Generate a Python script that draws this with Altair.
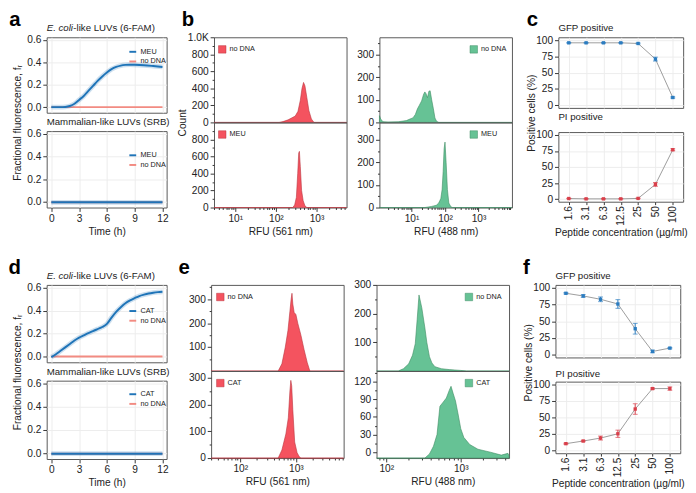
import altair as alt
import pandas as pd

FONT = "Liberation Sans"
BLUE = "#1f74b8"
SALMON = "#f28b82"
RED = "#f4535f"
RED_EDGE = "#b8323c"
GREEN = "#66c295"
GREEN_EDGE = "#3c8a62"
GREY_LINE = "#9a9a9a"
PT_BLUE = "#2b7cc0"
PT_RED = "#d93f4a"

TIME_TICKS = [0, 3, 6, 9, 12]

# ---- panel a (time courses) ----
A_T = [0, 1, 1.5, 2, 2.5, 3, 3.5, 4, 4.5, 5, 5.5, 6, 6.5, 7, 7.5, 8, 8.5, 9, 10, 11, 12]
A_MEU = [0, 0, 0.002, 0.01, 0.03, 0.065, 0.10, 0.145, 0.19, 0.235, 0.275, 0.31, 0.34, 0.36,
         0.372, 0.378, 0.38, 0.379, 0.375, 0.368, 0.36]
CTRL_T = [0, 12]
CTRL_F = [0, 0]
FLAT_T = [0, 12]
FLAT_F = [-0.004, -0.004]

# ---- panel d (time courses) ----
D_T = [0, 0.5, 1, 1.5, 2, 2.5, 3, 3.5, 4, 4.5, 5, 5.5, 6, 6.5, 7, 7.5, 8, 8.5, 9, 9.5, 10,
       10.5, 11, 11.5, 12]
D_CAT = [-0.005, 0.02, 0.05, 0.08, 0.11, 0.14, 0.165, 0.185, 0.205, 0.222, 0.24, 0.258, 0.285,
         0.34, 0.39, 0.43, 0.465, 0.49, 0.51, 0.528, 0.54, 0.55, 0.557, 0.562, 0.565]

# ---- panel b histograms ----
B1_X = [3, 120, 150, 200, 250, 300, 350, 400, 440, 480, 520, 580, 650, 750, 870, 5500]
B1_C = [0, 0, 10, 30, 55, 75, 130, 260, 400, 470, 430, 290, 140, 40, 0, 0]
B2_X = [3, 260, 290, 320, 345, 365, 380, 400, 430, 470, 520, 580, 5500]
B2_C = [0, 0, 30, 120, 400, 640, 660, 480, 200, 80, 20, 0, 0]
B3_X = [1.1, 1.2, 1.4, 2, 4, 7, 9, 11, 13, 15, 17, 20, 23, 25, 27, 30, 33, 36, 40, 45, 50,
        56, 65, 100, 10000]
B3_C = [30, 15, 3, 2, 3, 8, 15, 20, 35, 60, 75, 95, 125, 135, 128, 110, 138, 140, 100, 60,
        20, 5, 0, 0, 0]
B4_X = [1.1, 25, 40, 55, 65, 75, 82, 88, 94, 100, 108, 118, 130, 150, 170, 10000]
B4_C = [0, 0, 5, 10, 20, 40, 80, 160, 260, 290, 200, 80, 20, 3, 0, 0]

# ---- panel e histograms ----
E1_X = [30, 480, 560, 645, 720, 780, 820, 850, 880, 930, 1000, 1080, 1230, 1400, 1600, 1780, 7200]
E1_C = [0, 0, 30, 100, 170, 250, 300, 325, 280, 245, 236, 200, 150, 90, 35, 0, 0]
E2_X = [30, 480, 560, 660, 730, 780, 810, 840, 880, 950, 1050, 1150, 1230, 7200]
E2_C = [0, 0, 30, 90, 150, 250, 290, 270, 180, 60, 20, 5, 0, 0]
E3_X = [74, 145, 170, 200, 225, 245, 260, 275, 300, 330, 350, 380, 410, 450, 550, 700, 1000,
        1200, 4450]
E3_C = [0, 0, 8, 25, 55, 95, 180, 265, 220, 150, 100, 50, 28, 15, 8, 5, 2, 0, 0]
E4_X = [74, 330, 380, 430, 480, 525, 580, 640, 700, 740, 790, 850, 920, 1000, 1100, 1320,
        1700, 2500, 3500, 4300, 4450]
E4_C = [-10, -10, -3, 10, 30, 78, 85, 92, 105, 112, 100, 87, 65, 40, 25, 13, 5, 0, -5, -2, -6]

# ---- panels c / f ----
CONC = ["1.6", "3.1", "6.3", "12.5", "25", "50", "100"]
C_GFP = [96, 96, 96, 96, 95, 71, 12]
C_GFP_ERR = [0.6, 0.6, 0.6, 0.6, 0.8, 3, 1]
C_PI = [1, 0.5, 0.5, 0.5, 1.2, 23, 77]
C_PI_ERR = [0.4, 0.3, 0.3, 0.3, 0.5, 3, 1.5]
F_GFP = [92, 88, 83, 76, 39, 5, 10]
F_GFP_ERR = [1, 2, 3.5, 6.5, 8, 2, 1]
F_PI = [10.5, 14.5, 19, 25.5, 63, 94, 94]
F_PI_ERR = [0.8, 1, 3, 5.5, 8, 1, 2.5]

SUP = "datum.value == 10 ? '10¹' : datum.value == 100 ? '10²' : datum.value == 1000 ? '10³' : datum.label"

ECOLI = [("E. coli", 0, "italic"), ("-like LUVs (6-FAM)", 27.5, "normal")]
MAMM = [("Mammalian-like LUVs (SRB)", 0, "normal")]


def letter_layer(letter, dx, visible=True):
    return alt.Chart(pd.DataFrame({"t": [letter]})).mark_text(
        fontSize=21, fontWeight="bold", font=FONT, align="center", baseline="middle",
        opacity=1 if visible else 0, color="black"
    ).encode(text="t:N", x=alt.value(dx), y=alt.value(-17.5))


def subtitle_layers(parts, dy=-6):
    out = []
    for txt, dx, style in parts:
        out.append(alt.Chart(pd.DataFrame({"t": [txt]})).mark_text(
            fontSize=10, font=FONT, fontStyle=style, align="left", baseline="alphabetic",
            color="#222").encode(text="t:N", x=alt.value(dx), y=alt.value(dy)))
    return out


def time_plot(ts, ys, ctrl_t, ctrl_y, label, title, bottom, w, h, legend_y, letter=None):
    df = pd.concat([
        pd.DataFrame({"t": ctrl_t, "f": ctrl_y, "s": "no DNA"}),
        pd.DataFrame({"t": ts, "f": ys, "s": label}),
    ])
    color = alt.Color("s:N", scale=alt.Scale(domain=[label, "no DNA"], range=[BLUE, SALMON]),
                      legend=alt.Legend(orient="none", legendX=84, legendY=legend_y, title=None,
                                        symbolType="stroke", labelFontSize=7.5, symbolStrokeWidth=2,
                                        symbolSize=50, rowPadding=1, labelOffset=3, padding=0))
    x = alt.X("t:Q", scale=alt.Scale(domain=[-0.5, 12.45], nice=False, zero=False),
              axis=alt.Axis(values=TIME_TICKS, title="Time (h)" if bottom else None,
                            labels=bottom, ticks=bottom, domain=False, grid=True))
    if letter:
        yaxis = alt.Axis(values=[0, 0.2, 0.4, 0.6], format=".1f", domain=False, grid=True,
                         title="Fractional fluorescence, fᵣ", titleY=h + 10, titleX=-30,
                         titleBaseline="middle")
    else:
        yaxis = alt.Axis(values=[0, 0.2, 0.4, 0.6], format=".1f", domain=False, grid=True, title=None)
    y = alt.Y("f:Q", scale=alt.Scale(domain=[-0.05, 0.625], nice=False, zero=False), axis=yaxis)
    base = alt.Chart(df)
    ctrl = base.transform_filter(alt.datum.s == "no DNA").mark_line(strokeWidth=2).encode(x=x, y=y, color=color)
    glow = base.transform_filter(alt.datum.s == label).mark_line(
        strokeWidth=5, opacity=0.22, color=BLUE, interpolate="monotone").encode(x=x, y=y)
    main = base.transform_filter(alt.datum.s == label).mark_line(
        strokeWidth=2, interpolate="monotone").encode(x=x, y=y, color=color)
    layers = [ctrl, glow, main] + subtitle_layers(title)
    if letter:
        layers.append(letter_layer(letter, -33))
    return alt.layer(*layers).properties(width=w, height=h)


def hist_plot(xs, ys, label, fill, edge, xdom, xvals, xminor, ydom, yvals, yminor, bottom,
              legend_x, xtitle, w, h, ylabelexpr=None, letter=None, letter_dx=-27,
              letter_visible=True, ytitle=None):
    df = pd.DataFrame({"x": xs, "c": ys, "s": label})
    xscale = alt.Scale(type="log", domain=xdom, nice=False)
    yscale = alt.Scale(domain=ydom, nice=False, zero=False)
    if bottom:
        xaxis = alt.Axis(values=xvals, labelExpr=SUP, title=xtitle, domain=False, grid=False,
                         orient="bottom", tickSize=4)
        xaxis2 = alt.Axis(values=xminor, labels=False, title=None, domain=False, grid=False,
                          orient="bottom", tickSize=2)
    else:
        xaxis = None
        xaxis2 = None
    yargs = dict(values=yvals, domain=False, grid=False, orient="left", tickSize=4)
    if ylabelexpr:
        yargs["labelExpr"] = ylabelexpr
    if ytitle:
        yargs.update(title=ytitle, titleY=h, titleX=-32, titleBaseline="middle")
    else:
        yargs["title"] = None
    area = alt.Chart(df).mark_area(stroke=edge, strokeWidth=0.6, interpolate="linear").encode(
        x=alt.X("x:Q", scale=xscale, axis=xaxis),
        y=alt.Y("c:Q", scale=yscale, axis=alt.Axis(**yargs)),
        y2=alt.datum(ydom[0]),
        fill=alt.Fill("s:N", scale=alt.Scale(domain=[label], range=[fill]),
                      legend=alt.Legend(orient="none", legendX=legend_x, legendY=8, title=None,
                                        symbolType="square", symbolSize=60, labelFontSize=7.5,
                                        padding=0, symbolStrokeColor=edge, symbolStrokeWidth=0.5,
                                        labelOffset=3)),
    )
    minor = alt.Chart(df).mark_point(opacity=0).encode(
        x=alt.X("x:Q", scale=xscale, axis=xaxis2),
        y=alt.Y("c:Q", scale=yscale, axis=alt.Axis(values=yminor, labels=False, title=None,
                                                    domain=False, grid=False, orient="left",
                                                    tickSize=2)),
    )
    layers = [area, minor]
    if letter:
        layers.append(letter_layer(letter, letter_dx if letter_visible else 60, letter_visible))
    return alt.layer(*layers).resolve_axis(x="independent", y="independent").properties(width=w, height=h)


def pct_plot(vals, errs, color, title, bottom, w, h, title_dy, letter=None, letter_dx=-28):
    df = pd.DataFrame({"conc": CONC, "v": vals,
                       "lo": [v - e for v, e in zip(vals, errs)],
                       "hi": [v + e for v, e in zip(vals, errs)]})
    x = alt.X("conc:N", sort=CONC, scale=alt.Scale(type="point", padding=0.6),
              axis=alt.Axis(labelAngle=270, title="Peptide concentration (µg/ml)" if bottom else None,
                            labels=bottom, ticks=bottom, grid=True, domain=False, labelPadding=1,
                            tickSize=3, titlePadding=2, titleFontSize=10.5))
    if letter:
        yaxis = alt.Axis(values=[0, 25, 50, 75, 100], grid=True, domain=False,
                         title="Positive cells (%)", titleY=h + 5, titleX=-28, titleBaseline="middle")
    else:
        yaxis = alt.Axis(values=[0, 25, 50, 75, 100], grid=True, domain=False, title=None)
    yscale = alt.Scale(domain=[-4, 104.5], nice=False, zero=False)
    base = alt.Chart(df)
    line = base.mark_line(color=GREY_LINE, strokeWidth=1).encode(x=x, y=alt.Y("v:Q", scale=yscale, axis=yaxis))
    err = base.mark_errorbar(ticks={"size": 5}, color=color).encode(
        x=x, y=alt.Y("lo:Q", scale=yscale, axis=yaxis), y2="hi:Q")
    pts = base.mark_square(size=12, color=color, opacity=1).encode(
        x=x, y=alt.Y("v:Q", scale=yscale, axis=yaxis))
    layers = [line, err, pts] + subtitle_layers([(title, 0, "normal")], dy=title_dy)
    if letter:
        layers.append(letter_layer(letter, letter_dx))
    return alt.layer(*layers).properties(width=w, height=h)


def ind(ch):
    return ch.resolve_scale(color="independent", fill="independent").resolve_legend(
        color="independent", fill="independent")


AW, BW, CW = 124, 137, 129

B_MINOR_L = [m * 10 ** e for e in range(0, 4) for m in range(2, 10) if 3 <= m * 10 ** e <= 5500]
B_MINOR_R = [m * 10 ** e for e in range(0, 4) for m in range(2, 10) if 1.1 <= m * 10 ** e <= 10000]
E_MINOR_L = [m * 10 ** e for e in range(1, 4) for m in range(2, 10) if 30 <= m * 10 ** e <= 7200]
E_MINOR_R = [m * 10 ** e for e in range(1, 4) for m in range(2, 10) if 74 <= m * 10 ** e <= 4450]

# ---- top row ----
a1 = time_plot(A_T, A_MEU, CTRL_T, CTRL_F, "MEU", ECOLI, False, AW, 78, 10, letter="a")
a2 = time_plot(FLAT_T, FLAT_F, FLAT_T, FLAT_F, "MEU", MAMM, True, AW, 79, 20)
a_col = ind(alt.vconcat(a1, a2, spacing=19, bounds="flush"))

b1 = hist_plot(B1_X, B1_C, "no DNA", RED, RED_EDGE, [3, 5500], [10, 100, 1000], B_MINOR_L,
               [0, 1000], [0, 200, 400, 600, 800, 1000], [100, 300, 500, 700, 900], False, 4,
               None, BW, 88, ylabelexpr="datum.value == 1000 ? '1.0K' : datum.label", letter="b",
               ytitle="Count")
b2 = hist_plot(B2_X, B2_C, "MEU", RED, RED_EDGE, [3, 5500], [10, 100, 1000], B_MINOR_L,
               [0, 1000], [0, 200, 400, 600, 800], [100, 300, 500, 700, 900], True, 4,
               "RFU (561 nm)", BW, 88)
b3 = hist_plot(B3_X, B3_C, "no DNA", GREEN, GREEN_EDGE, [1.1, 10000], [10, 100, 1000], B_MINOR_R,
               [0, 377], [0, 100, 200, 300], [50, 150, 250, 350], False, 93,
               None, BW, 88, letter="b", letter_visible=False)
b4 = hist_plot(B4_X, B4_C, "MEU", GREEN, GREEN_EDGE, [1.1, 10000], [10, 100, 1000], B_MINOR_R,
               [0, 377], [0, 100, 200, 300], [50, 150, 250, 350], True, 93,
               "RFU (488 nm)", BW, 88)
b_col = ind(alt.hconcat(ind(alt.vconcat(b1, b2, spacing=0, bounds="flush")),
                        ind(alt.vconcat(b3, b4, spacing=0, bounds="flush")), spacing=5))

c1 = pct_plot(C_GFP, C_GFP_ERR, PT_BLUE, "GFP positive", False, CW, 73, -6, letter="c", letter_dx=-27)
c2 = pct_plot(C_PI, C_PI_ERR, PT_RED, "PI positive", True, CW, 72, -12)
c_col = ind(alt.vconcat(c1, c2, spacing=25, bounds="flush"))

row1 = ind(alt.hconcat(a_col, ind(alt.hconcat(b_col, c_col, spacing=10)), spacing=4))

# ---- bottom row ----
d1 = time_plot(D_T, D_CAT, CTRL_T, CTRL_F, "CAT", ECOLI, False, AW, 80, 22, letter="d")
d2 = time_plot(FLAT_T, FLAT_F, FLAT_T, FLAT_F, "CAT", MAMM, True, AW, 81, 9)
d_col = ind(alt.vconcat(d1, d2, spacing=19, bounds="flush"))

e1 = hist_plot(E1_X, E1_C, "no DNA", RED, RED_EDGE, [30, 7200], [100, 1000], E_MINOR_L,
               [0, 360], [100, 200, 300], [50, 150, 250, 350], False, 5,
               None, BW, 89, letter="e", letter_dx=-28)
e2 = hist_plot(E2_X, E2_C, "CAT", RED, RED_EDGE, [30, 7200], [100, 1000], E_MINOR_L,
               [0, 325], [0, 100, 200, 300], [50, 150, 250], True, 5,
               "RFU (561 nm)", BW, 90)
e3 = hist_plot(E3_X, E3_C, "no DNA", GREEN, GREEN_EDGE, [74, 4450], [100, 1000], E_MINOR_R,
               [0, 300], [100, 200, 300], [50, 150, 250], False, 91,
               None, BW, 89, letter="e", letter_visible=False)
e4 = hist_plot(E4_X, E4_C, "CAT", GREEN, GREEN_EDGE, [74, 4450], [100, 1000], E_MINOR_R,
               [-10, 138], [0, 30, 60, 90, 120], [15, 45, 75, 105, 135], True, 91,
               "RFU (488 nm)", BW, 90)
e_col = ind(alt.hconcat(ind(alt.vconcat(e1, e2, spacing=0, bounds="flush")),
                        ind(alt.vconcat(e3, e4, spacing=0, bounds="flush")), spacing=5))

f1 = pct_plot(F_GFP, F_GFP_ERR, PT_BLUE, "GFP positive", False, CW, 75, -6, letter="f", letter_dx=-30)
f2 = pct_plot(F_PI, F_PI_ERR, PT_RED, "PI positive", True, CW, 74, -5)
f_col = ind(alt.vconcat(f1, f2, spacing=25, bounds="flush"))

row2 = ind(alt.hconcat(d_col, ind(alt.hconcat(e_col, f_col, spacing=10)), spacing=4))

chart = ind(alt.vconcat(row1, row2, spacing=19)).properties(
    padding={"top": -7, "left": 0, "right": 0, "bottom": 0}
).configure(font=FONT).configure_view(
    stroke="#555", strokeWidth=1
).configure_axis(
    labelFont=FONT, titleFont=FONT, labelFontSize=10.5, titleFontSize=10.5, labelColor="#222",
    titleColor="#222", tickColor="#333", gridColor="#ececec", titleFontWeight="normal",
    tickSize=4, labelPadding=2, titlePadding=3
).configure_legend(
    labelFont=FONT, labelColor="#222"
)

chart.save("out.html", embed_options={"renderer": "svg", "actions": False})
